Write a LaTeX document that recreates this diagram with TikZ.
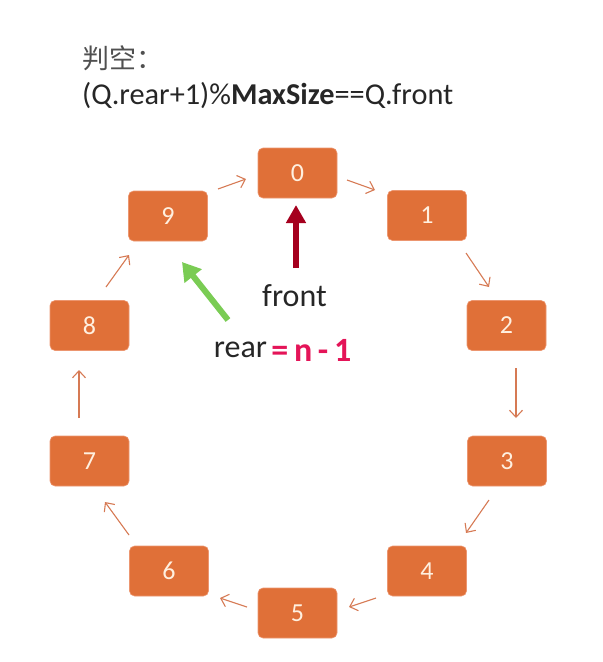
\documentclass[tikz,border=0pt]{standalone}
\usepackage{fontspec}
\setmainfont{Carlito}
\newfontfamily\cjk{Noto Sans CJK SC}
\usepackage{tikz}
\usetikzlibrary{arrows.meta,positioning}

\definecolor{boxorange}{RGB}{224,112,56}
\definecolor{boxline}{RGB}{236,150,112}
\definecolor{linkc}{RGB}{214,122,84}
\definecolor{frontred}{RGB}{165,0,30}
\definecolor{reargreen}{RGB}{122,204,84}
\definecolor{handpink}{RGB}{228,20,88}
\definecolor{txtgray}{RGB}{80,80,80}

\tikzset{
  slot/.style={draw=boxline, line width=0.6pt, fill=boxorange, rounded corners=5pt,
    minimum width=79pt, minimum height=50pt, inner sep=0pt,
    text=white!88!orange, font=\fontsize{26}{28}\selectfont},
  link/.style={draw=linkc, line width=1.1pt, -{Straight Barb[length=7pt,width=13pt]}},
  lbl/.style={text=black!85, font=\fontsize{32}{36}\selectfont, inner sep=0pt}
}

\begin{document}
\begin{tikzpicture}[x=1pt, y=-1pt]
        \useasboundingbox (0,0) rectangle (603,662);

        % title
        \node (title) [anchor=west, inner sep=0pt, text=txtgray, font=\cjk\fontsize{27}{30}\selectfont] at (82,58) {判空：};
        \node (cond) [anchor=west, inner sep=0pt, text=black!85, font=\fontsize{30.3}{34}\selectfont] at (82,96) {(Q.rear+1)\%\textbf{MaxSize}==Q.front};

        % circular queue slots
        \node (n0) [slot] at (297.5,173) {0};
        \node (n1) [slot] at (427,215.5) {1};
        \node (n2) [slot] at (506.5,325.5) {2};
        \node (n3) [slot] at (507,461) {3};
        \node (n4) [slot] at (427,571) {4};
        \node (n5) [slot] at (297.5,613) {5};
        \node (n6) [slot] at (169,571) {6};
        \node (n7) [slot] at (89.5,461) {7};
        \node (n8) [slot] at (89.5,325.5) {8};
        \node (n9) [slot] at (168,216) {9};

        \draw[link] ([shift={(50,-27)}]n9.center) -- ([shift={(-51.5,6)}]n0.center);
        \draw[link] ([shift={(49.5,7)}]n0.center) -- ([shift={(-52,-25.5)}]n1.center);
        \draw[link] ([shift={(39,37.5)}]n1.center) -- ([shift={(-17.5,-38.5)}]n2.center);
        \draw[link] ([shift={(9.5,42.5)}]n2.center) -- ([shift={(9,-43)}]n3.center);
        \draw[link] ([shift={(-18,39)}]n3.center) -- ([shift={(39,-38)}]n4.center);
        \draw[link] ([shift={(-51,27)}]n4.center) -- ([shift={(51.5,-6)}]n5.center);
        \draw[link] ([shift={(-50.5,-6)}]n5.center) -- ([shift={(51,27)}]n6.center);
        \draw[link] ([shift={(-40,-36)}]n6.center) -- ([shift={(15.5,41)}]n7.center);
        \draw[link] ([shift={(-10.5,-43)}]n7.center) -- ([shift={(-10.5,44.5)}]n8.center);
        \draw[link] ([shift={(16.5,-38.5)}]n8.center) -- ([shift={(-39,39)}]n9.center);

        % pointers
        \node (frontlbl) [lbl] at (294.5,296) {front};
        \node (rearlbl) [lbl] at (240.5,350) {rear};
        \node (rearval) [right=4pt of rearlbl, inner sep=0pt, text=handpink, font=\bfseries\fontsize{34}{38}\selectfont] {=\,n\,-\,1};

        \draw[frontred, line width=6.5pt, -{Triangle[length=18pt,width=19pt]}]
          ([shift={(1.5,-28)}]frontlbl.center) -- ([shift={(-1.5,32)}]n0.center);
        \draw[reargreen, line width=6pt, -{Triangle[length=18pt,width=21pt]}]
          ([shift={(-12.5,-30)}]rearlbl.center) -- ([shift={(14,46)}]n9.center);
    \end{tikzpicture}
\end{document}
